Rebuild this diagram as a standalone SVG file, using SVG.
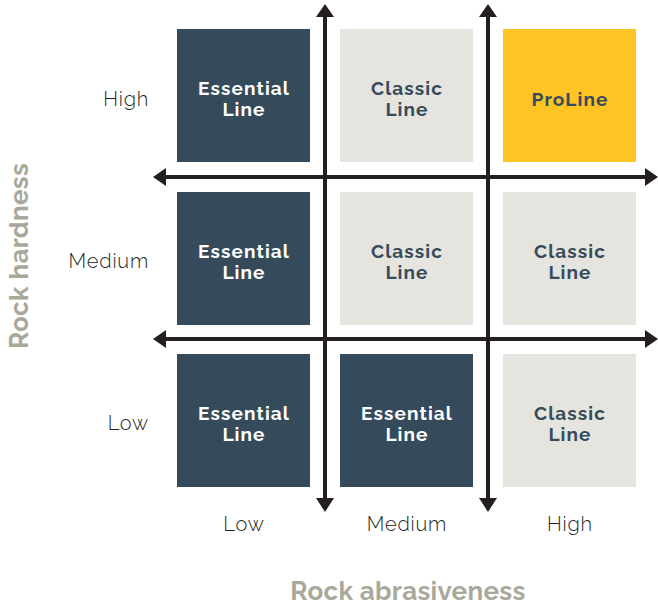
<svg xmlns="http://www.w3.org/2000/svg" width="658" height="607" viewBox="0 0 658 607">
<style>
.dark{fill:#354B5C}
.light{fill:#E5E4DE}
.gold{fill:#FDC423}
.bt{font-family:Raleway,Lato,"Open Sans",sans-serif;font-weight:700;font-size:19px;letter-spacing:1.1px;text-anchor:middle}
.wt{fill:#FFFFFF}
.nt{fill:#354B5C}
.lab{font-family:Raleway,Lato,"Open Sans",sans-serif;font-weight:300;font-size:20px;letter-spacing:0.8px;fill:#231F20}
.ax{font-family:Raleway,Lato,"Open Sans",sans-serif;font-weight:700;font-size:26px;letter-spacing:0.3px;fill:#A9A99B;text-anchor:middle}
.ln{stroke:#231F20;stroke-width:4;fill:none}
.ah{fill:#231F20}
</style>
<rect width="658" height="607" fill="#FFFFFF"/>
<g id="connectors">
<line class="ln" x1="160" y1="177" x2="650" y2="177"/>
<line class="ln" x1="160" y1="339" x2="650" y2="339"/>
<line class="ln" x1="325" y1="12" x2="325" y2="504"/>
<line class="ln" x1="488" y1="12" x2="488" y2="504"/>
<polygon class="ah" points="153,177 166,168 166,186"/>
<polygon class="ah" points="658,177 645,168 645,186"/>
<polygon class="ah" points="153,339 166,330 166,348"/>
<polygon class="ah" points="658,339 645,330 645,348"/>
<polygon class="ah" points="325,4 316,17 334,17"/>
<polygon class="ah" points="325,512 316,498 334,498"/>
<polygon class="ah" points="488,4 479,17 497,17"/>
<polygon class="ah" points="488,512 479,498 497,498"/>
</g>
<g id="n-high-low"><rect class="dark" x="177" y="29" width="133" height="133"/><text class="bt wt" x="244" y="95">Essential</text><text class="bt wt" x="244" y="116">Line</text></g>
<g id="n-high-medium"><rect class="light" x="340" y="29" width="133" height="133"/><text class="bt nt" x="407" y="95">Classic</text><text class="bt nt" x="407" y="116">Line</text></g>
<g id="n-high-high"><rect class="gold" x="503" y="29" width="133" height="133"/><text class="bt nt" x="570" y="106">ProLine</text></g>
<g id="n-medium-low"><rect class="dark" x="177" y="192" width="133" height="133"/><text class="bt wt" x="244" y="258">Essential</text><text class="bt wt" x="244" y="279">Line</text></g>
<g id="n-medium-medium"><rect class="light" x="340" y="192" width="133" height="133"/><text class="bt nt" x="407" y="258">Classic</text><text class="bt nt" x="407" y="279">Line</text></g>
<g id="n-medium-high"><rect class="light" x="503" y="192" width="133" height="133"/><text class="bt nt" x="570" y="258">Classic</text><text class="bt nt" x="570" y="279">Line</text></g>
<g id="n-low-low"><rect class="dark" x="177" y="354" width="133" height="133"/><text class="bt wt" x="244" y="420">Essential</text><text class="bt wt" x="244" y="441">Line</text></g>
<g id="n-low-medium"><rect class="dark" x="340" y="354" width="133" height="133"/><text class="bt wt" x="407" y="420">Essential</text><text class="bt wt" x="407" y="441">Line</text></g>
<g id="n-low-high"><rect class="light" x="503" y="354" width="133" height="133"/><text class="bt nt" x="570" y="420">Classic</text><text class="bt nt" x="570" y="441">Line</text></g>
<g id="labels">
<text class="lab" x="149" y="106" text-anchor="end">High</text>
<text class="lab" x="149" y="268" text-anchor="end">Medium</text>
<text class="lab" x="149" y="430" text-anchor="end">Low</text>
<text class="lab" x="244" y="531" text-anchor="middle">Low</text>
<text class="lab" x="407" y="531" text-anchor="middle">Medium</text>
<text class="lab" x="570" y="531" text-anchor="middle">High</text>
<text class="ax" x="408" y="600">Rock abrasiveness</text>
<text class="ax" transform="translate(28,256) rotate(-90)">Rock hardness</text>
</g>
</svg>
